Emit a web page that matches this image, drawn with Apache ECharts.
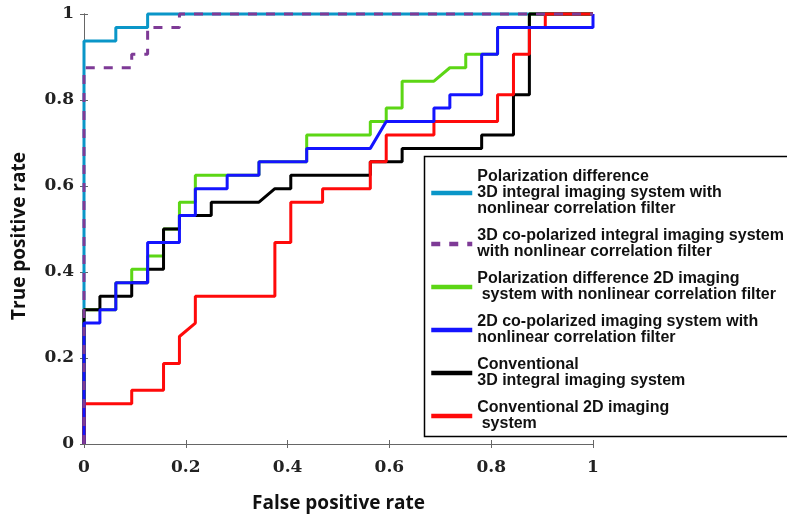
<!DOCTYPE html>
<html>
<head>
<meta charset="utf-8">
<script src="https://cdn.jsdelivr.net/npm/echarts@6/dist/echarts.min.js"></script>
<style>
  html, body { margin: 0; padding: 0; background: #fff; }
  #main { width: 787px; height: 518px; }
</style>
</head>
<body>
<div id="main"></div>
<script>
// tick labels
var axisTicks = [0, 0.2, 0.4, 0.6, 0.8, 1];

// ROC curves: false positive rate (x) / true positive rate (y)
var polDiff3dFpr = [0, 0, 0.0625, 0.0625, 0.125, 0.125, 1];
var polDiff3dTpr = [0, 0.9375, 0.9375, 0.96875, 0.96875, 1, 1];

var coPol3dFpr = [0, 0, 0.09375, 0.09375, 0.125, 0.125, 0.1875, 0.1875, 1];
var coPol3dTpr = [0, 0.875, 0.875, 0.90625, 0.90625, 0.96875, 0.96875, 1, 1];

var polDiff2dFpr = [0, 0, 0.0625, 0.0625, 0.09375, 0.09375, 0.125, 0.125, 0.15625, 0.15625, 0.1875, 0.1875,
  0.21875, 0.21875, 0.34375, 0.34375, 0.4375, 0.4375, 0.5625, 0.5625, 0.59375, 0.59375, 0.625, 0.625,
  0.6875, 0.71875, 0.75, 0.75, 0.8125, 0.8125, 0.875, 0.875, 1];
var polDiff2dTpr = [0, 0.3125, 0.3125, 0.375, 0.375, 0.40625, 0.40625, 0.4375, 0.4375, 0.5, 0.5, 0.5625,
  0.5625, 0.625, 0.625, 0.65625, 0.65625, 0.71875, 0.71875, 0.75, 0.75, 0.78125, 0.78125, 0.84375,
  0.84375, 0.875, 0.875, 0.90625, 0.90625, 0.96875, 0.96875, 1, 1];

var coPol2dFpr = [0, 0, 0.03125, 0.03125, 0.0625, 0.0625, 0.125, 0.125, 0.1875, 0.1875, 0.21875, 0.21875,
  0.28125, 0.28125, 0.34375, 0.34375, 0.4375, 0.4375, 0.5625, 0.59375, 0.6875, 0.6875, 0.71875, 0.71875,
  0.78125, 0.78125, 0.8125, 0.8125, 1, 1];
var coPol2dTpr = [0, 0.28125, 0.28125, 0.3125, 0.3125, 0.375, 0.375, 0.46875, 0.46875, 0.53125, 0.53125, 0.59375,
  0.59375, 0.625, 0.625, 0.65625, 0.65625, 0.6875, 0.6875, 0.75, 0.75, 0.78125, 0.78125, 0.8125,
  0.8125, 0.90625, 0.90625, 0.96875, 0.96875, 1];

var conv3dFpr = [0, 0, 0.03125, 0.03125, 0.09375, 0.09375, 0.125, 0.125, 0.15625, 0.15625, 0.1875, 0.1875,
  0.25, 0.25, 0.34375, 0.375, 0.40625, 0.40625, 0.5625, 0.5625, 0.625, 0.625, 0.78125, 0.78125,
  0.84375, 0.84375, 0.875, 0.875, 1];
var conv3dTpr = [0, 0.3125, 0.3125, 0.34375, 0.34375, 0.375, 0.375, 0.40625, 0.40625, 0.5, 0.5, 0.53125,
  0.53125, 0.5625, 0.5625, 0.59375, 0.59375, 0.625, 0.625, 0.65625, 0.65625, 0.6875, 0.6875, 0.71875,
  0.71875, 0.8125, 0.8125, 1, 1];

var conv2dFpr = [0, 0, 0.09375, 0.09375, 0.15625, 0.15625, 0.1875, 0.1875, 0.21875, 0.21875, 0.375, 0.375,
  0.40625, 0.40625, 0.46875, 0.46875, 0.5625, 0.5625, 0.59375, 0.59375, 0.6875, 0.6875, 0.8125, 0.8125,
  0.84375, 0.84375, 0.875, 0.875, 0.90625, 0.90625, 1];
var conv2dTpr = [0, 0.09375, 0.09375, 0.125, 0.125, 0.1875, 0.1875, 0.25, 0.28125, 0.34375, 0.34375, 0.46875,
  0.46875, 0.5625, 0.5625, 0.59375, 0.59375, 0.65625, 0.65625, 0.71875, 0.71875, 0.75, 0.75, 0.8125,
  0.8125, 0.90625, 0.90625, 0.96875, 0.96875, 1, 1];

var names = [
  'Polarization difference\n3D integral imaging system with\nnonlinear correlation filter',
  '3D co-polarized integral imaging system\nwith nonlinear correlation filter',
  'Polarization difference 2D imaging\n system with nonlinear correlation filter',
  '2D co-polarized imaging system with\nnonlinear correlation filter',
  'Conventional\n3D integral imaging system',
  'Conventional 2D imaging\n system'
];

function pairs(xs, ys) {
  var out = [];
  for (var i = 0; i < xs.length; i++) out.push([xs[i], ys[i]]);
  return out;
}

function curve(name, xs, ys, color, z, type) {
  return {
    name: name,
    type: 'line',
    data: pairs(xs, ys),
    symbol: 'none',
    clip: false,
    z: z,
    lineStyle: { color: color, width: 3, type: type || 'solid', cap: 'butt' },
    itemStyle: { color: color },
    emphasis: { disabled: true }
  };
}

var tickFont = { fontFamily: 'DejaVu Serif', fontWeight: 'bold', fontSize: 17, color: '#222' };
var nameFont = { fontFamily: 'Open Sans', fontWeight: 'bold', fontSize: 19, color: '#111' };
var frameLine = { lineStyle: { color: '#666', width: 1 } };
var frameTick = { inside: true, length: 4, lineStyle: { color: '#666' } };

var myChart = echarts.init(document.getElementById('main'));
myChart.setOption({
  animation: false,
  backgroundColor: '#fff',
  grid: { left: 84, right: 194, top: 14, bottom: 73 },
  // legend frame runs past the right edge of the picture
  graphic: [{
    type: 'rect',
    z: 9,
    shape: { x: 424.5, y: 156.5, width: 420, height: 280 },
    style: { fill: '#fff', stroke: '#000', lineWidth: 1.5 }
  }],
  legend: {
    data: names,
    orient: 'vertical',
    left: 424,
    top: 156,
    padding: [13, 10, 4, 5],
    itemGap: 11,
    itemWidth: 41,
    itemHeight: 14,
    lineStyle: { width: 4.5 },
    itemStyle: { opacity: 0 },
    textStyle: { fontFamily: 'Liberation Sans', fontWeight: 'bold', fontSize: 16, lineHeight: 16, color: '#111' },
    z: 10
  },
  xAxis: [{
    type: 'value', min: 0, max: 1, interval: 0.2,
    name: 'False positive rate', nameLocation: 'middle', nameGap: 50, nameTextStyle: nameFont,
    axisLine: frameLine, axisTick: frameTick, splitLine: { show: false },
    axisLabel: Object.assign({ margin: 15 }, tickFont)
  }, {
    type: 'value', min: 0, max: 1, interval: 0.2, position: 'top',
    axisLine: frameLine, axisTick: frameTick, splitLine: { show: false },
    axisLabel: { show: false }
  }],
  yAxis: [{
    type: 'value', min: 0, max: 1, interval: 0.2,
    name: 'True positive rate', nameLocation: 'middle', nameGap: 55, nameRotate: 90,
    nameTextStyle: Object.assign({ padding: [0, 14, 0, 0] }, nameFont),
    axisLine: frameLine, axisTick: frameTick, splitLine: { show: false },
    axisLabel: Object.assign({ margin: 10 }, tickFont)
  }, {
    type: 'value', min: 0, max: 1, interval: 0.2, position: 'right',
    axisLine: frameLine, axisTick: frameTick, splitLine: { show: false },
    axisLabel: { show: false }
  }],
  series: [
    curve(names[0], polDiff3dFpr, polDiff3dTpr, '#0A96C8', 2),
    curve(names[1], coPol3dFpr, coPol3dTpr, '#7E3A96', 8, [9, 9]),
    curve(names[2], polDiff2dFpr, polDiff2dTpr, '#5CD615', 3),
    curve(names[3], coPol2dFpr, coPol2dTpr, '#1414FF', 6),
    curve(names[4], conv3dFpr, conv3dTpr, '#000000', 4),
    curve(names[5], conv2dFpr, conv2dTpr, '#FF0A0A', 5)
  ]
});
</script>
</body>
</html>
